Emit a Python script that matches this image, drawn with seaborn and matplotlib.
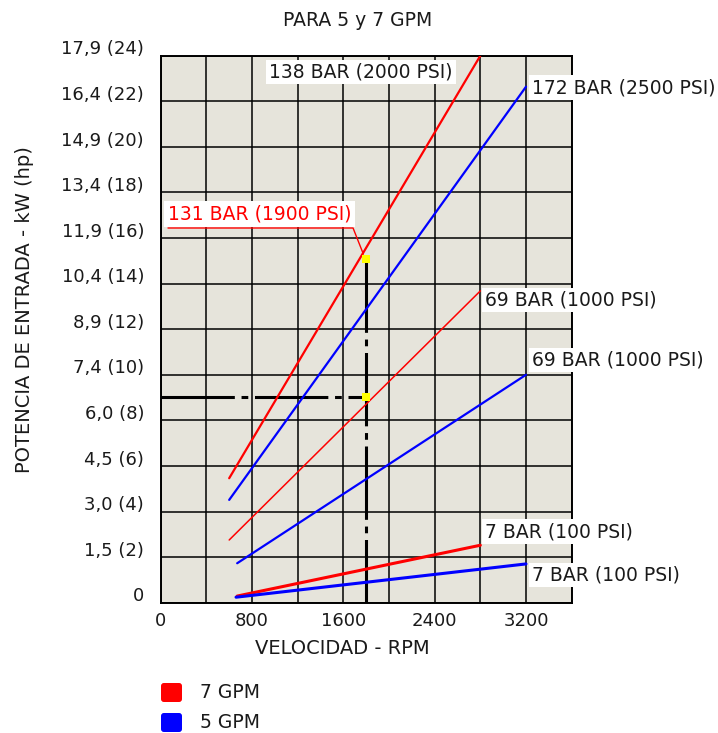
import numpy as np
import pandas as pd
import matplotlib
matplotlib.use("Agg")
import matplotlib.pyplot as plt
import matplotlib.transforms as mtransforms
from matplotlib.patches import FancyBboxPatch
import seaborn as sns

# ---------------- data ----------------
curve_names = ["138 BAR (2000 PSI)", "172 BAR (2500 PSI)", "69 BAR (1000 PSI)",
               "69 BAR (1000 PSI)", "7 BAR (100 PSI)", "7 BAR (100 PSI)"]
curve_gpm = ["7 GPM", "5 GPM", "7 GPM", "5 GPM", "7 GPM", "5 GPM"]
rpm_start = [600, 600, 600, 670, 670, 660]
rpm_end = [2800, 3200, 2800, 3200, 2800, 3200]
hp_start = [5.46, 4.51, 2.75, 1.73, 0.29, 0.24]
hp_end = [24.0, 22.64, 13.68, 10.0, 2.52, 1.70]

hp_ticks = [0, 2, 4, 6, 8, 10, 12, 14, 16, 18, 20, 22, 24]
hp_tick_labels = ["0", "1,5 (2)", "3,0 (4)", "4,5 (6)", "6,0 (8)", "7,4 (10)",
                  "8,9 (12)", "10,4 (14)", "11,9 (16)", "13,4 (18)", "14,9 (20)",
                  "16,4 (22)", "17,9 (24)"]
rpm_ticks = [0, 800, 1600, 2400, 3200]

op_rpm = 1800
op_hp_high = 15.1
op_hp_low = 9.04
legend_labels = ["7 GPM", "5 GPM"]

# ---------------- style ----------------
sns.set_style("white")
plt.rcParams['font.family'] = ['DejaVu Sans']
TXT = "#1a1a1a"

palette = {"7 GPM": "#FF0000", "5 GPM": "#0000FF"}
widths = [1.6, 1.6, 1.1, 1.6, 2.2, 2.2]

fig = plt.figure(figsize=(7.18, 7.33), dpi=100)
ax = fig.add_axes([0.2238, 0.1778, 0.5724, 0.7462])
ax.set_facecolor("#E6E4DB")

rows = []
for i, name in enumerate(curve_names):
    rows.append({"curve": i, "gpm": curve_gpm[i], "rpm": rpm_start[i], "hp": hp_start[i]})
    rows.append({"curve": i, "gpm": curve_gpm[i], "rpm": rpm_end[i], "hp": hp_end[i]})
df = pd.DataFrame(rows)

# dash-dot operating-point lines
dd = (0, (24, 2.2, 2.2, 2.2))
ax.plot([op_rpm, op_rpm], [op_hp_high, 0], color="black", lw=2.2,
        linestyle=dd, zorder=3)
ax.plot([0, op_rpm], [op_hp_low, op_hp_low], color="black", lw=2.2,
        linestyle=dd, zorder=3)

for i in range(len(curve_names)):
    sub = df[df["curve"] == i]
    sns.lineplot(data=sub, x="rpm", y="hp", color=palette[curve_gpm[i]],
                 lw=widths[i], estimator=None, ax=ax, zorder=4, legend=False)

# yellow markers
ax.scatter([op_rpm, op_rpm], [op_hp_high, op_hp_low], marker="s", s=28,
           color="#FFFF00", zorder=6, linewidths=0)

# axes limits / grid
ax.set_xlim(0, 3600)
ax.set_ylim(0, 24)
ax.set_xticks(rpm_ticks)
ax.set_xticks(np.arange(0, 3601, 400), minor=True)
ax.set_yticks(hp_ticks)
ax.set_yticklabels(hp_tick_labels)
ax.grid(True, which="both", color="black", lw=1.1, zorder=1)
ax.set_axisbelow(True)
for s in ax.spines.values():
    s.set_color("black")
    s.set_linewidth(1.4)
ax.tick_params(axis="both", which="both", length=0, labelsize=13, colors=TXT)
ax.tick_params(axis="x", pad=7)
ax.tick_params(axis="y", pad=12)
offset = mtransforms.ScaledTranslation(0, 6 / 72, fig.dpi_scale_trans)
for lab in ax.get_yticklabels():
    lab.set_transform(lab.get_transform() + offset)

ax.set_xlabel("VELOCIDAD - RPM", fontsize=14, color=TXT)
ax.xaxis.set_label_coords(0.443, -0.066)
ax.set_ylabel("POTENCIA DE ENTRADA - kW (hp)", fontsize=14, color=TXT)
ax.yaxis.set_label_coords(-0.308, 0.535)

# curve labels
bbox = dict(boxstyle="square,pad=0.15", fc="white", ec="none")
fs = 13.5
ax.text(1755, 23.29, curve_names[0], ha="center", va="center", fontsize=fs,
        bbox=bbox, zorder=7, color=TXT)
ax.text(3250, 22.6, curve_names[1], ha="left", va="center", fontsize=fs,
        bbox=bbox, zorder=7, clip_on=False, color=TXT)
ax.text(2840, 13.28, curve_names[2], ha="left", va="center", fontsize=fs,
        bbox=bbox, zorder=7, clip_on=False, color=TXT)
ax.text(3250, 10.64, curve_names[3], ha="left", va="center", fontsize=fs,
        bbox=bbox, zorder=7, clip_on=False, color=TXT)
ax.text(2840, 3.12, curve_names[4], ha="left", va="center", fontsize=fs,
        bbox=bbox, zorder=7, clip_on=False, color=TXT)
ax.text(3250, 1.21, curve_names[5], ha="left", va="center", fontsize=fs,
        bbox=bbox, zorder=7, clip_on=False, color=TXT)

# 131 BAR annotation
ax.text(64, 17.05, "131 BAR (1900 PSI)", ha="left", va="center", fontsize=fs,
        color="#FF0000", bbox=dict(boxstyle="square,pad=0.2", fc="white", ec="none"),
        zorder=7)
ax.plot([64, 1685, 1775], [16.44, 16.44, 15.3], color="#FF0000", lw=1.0, zorder=8)

# title
fig.text(358 / 718, 1 - 20 / 733, "PARA 5 y 7 GPM", ha="center", va="center",
         fontsize=13.5, color=TXT)

# legend (drawn as rounded swatches + text)
W, H = 718.0, 733.0
for i, lab in enumerate(legend_labels):
    top = 683 + i * 30
    fig.patches.append(FancyBboxPatch((161 / W, 1 - (top + 19) / H), 21 / W, 19 / H,
                                      boxstyle="round,pad=0,rounding_size=0.004",
                                      transform=fig.transFigure, fc=palette[lab],
                                      ec="none", figure=fig))
    fig.text(200 / W, 1 - (top + 9.5) / H, lab, ha="left", va="center",
             fontsize=13.5, color=TXT)

fig.savefig("out.png", dpi=100)
